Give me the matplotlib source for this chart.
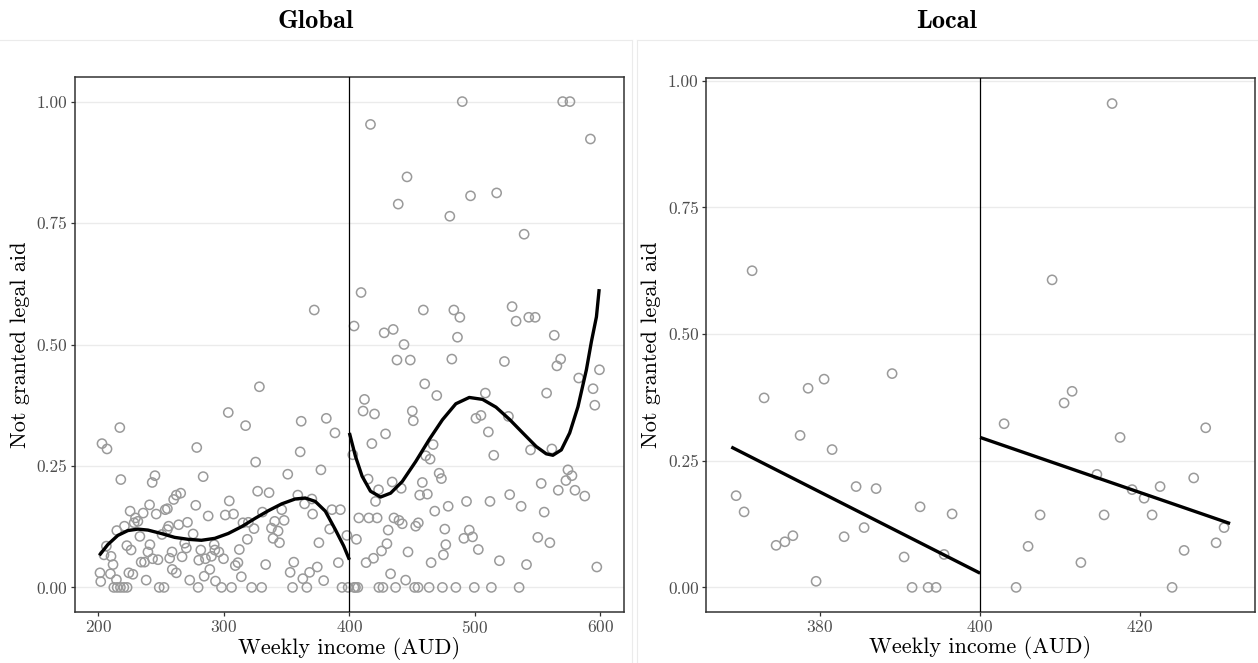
import numpy as np
import matplotlib
matplotlib.use("Agg")
import matplotlib.pyplot as plt
from matplotlib.lines import Line2D

plt.rcParams["font.family"] = ["cmr10", "DejaVu Serif"]
plt.rcParams["axes.formatter.use_mathtext"] = True

cutoff = 400

# Global panel, below the cutoff
glob_left_x = [328.3, 303.5, 217.1, 317.3, 361.6, 381.6, 388.5, 202.9, 206.9, 278.4,
               360.8, 325.3, 217.9, 245.1, 242.9, 283.5, 350.9, 377.3, 265.6, 262.1,
               260.0, 326.9, 336.0, 304.3, 240.8, 277.6, 358.9, 370.1, 364.3, 225.3,
               235.7, 246.1, 253.3, 255.0, 287.5, 301.1, 307.7, 330.7, 346.1, 370.7,
               386.1, 392.8, 229.6, 231.5, 228.5, 220.8, 214.7, 233.1, 256.0, 254.9,
               264.0, 271.0, 275.5, 250.7, 315.2, 319.5, 324.0, 337.9, 340.5, 343.2,
               348.0, 339.2, 344.3, 384.3, 375.7, 206.4, 204.5, 210.1, 222.7, 226.1,
               241.1, 239.5, 243.2, 247.5, 234.1, 236.8, 256.8, 258.7, 266.7, 268.8,
               270.1, 281.6, 280.0, 285.3, 290.1, 292.8, 292.3, 296.0, 299.7, 312.3,
               309.1, 311.2, 288.8, 258.9, 262.1, 211.7, 201.3, 209.6, 201.9, 214.4,
               224.3, 227.5, 238.1, 272.8, 284.3, 293.3, 313.9, 333.3, 355.7, 352.8,
               362.9, 368.3, 374.4, 379.5, 391.2, 318.7, 372.0, 398.0,
               212.3, 215.0, 217.6, 220.3, 222.9, 248.5, 252.3, 279.5, 298.1, 306.1,
               322.1, 330.1, 354.7, 366.1, 394.1, 399.0]
glob_left_y = [0.413, 0.360, 0.329, 0.333, 0.342, 0.348, 0.318, 0.296, 0.285, 0.288,
               0.279, 0.258, 0.222, 0.230, 0.216, 0.228, 0.233, 0.242, 0.194, 0.190,
               0.181, 0.198, 0.195, 0.178, 0.170, 0.169, 0.190, 0.182, 0.172, 0.157,
               0.153, 0.151, 0.160, 0.162, 0.147, 0.149, 0.151, 0.155, 0.160, 0.151,
               0.160, 0.160, 0.143, 0.136, 0.133, 0.126, 0.117, 0.105, 0.126, 0.119,
               0.129, 0.134, 0.110, 0.109, 0.133, 0.134, 0.121, 0.122, 0.136, 0.116,
               0.138, 0.101, 0.092, 0.120, 0.092, 0.085, 0.067, 0.064, 0.086, 0.077,
               0.088, 0.073, 0.059, 0.057, 0.052, 0.052, 0.060, 0.073, 0.063, 0.091,
               0.081, 0.077, 0.056, 0.059, 0.064, 0.077, 0.088, 0.073, 0.059, 0.078,
               0.045, 0.051, 0.037, 0.037, 0.030, 0.047, 0.030, 0.028, 0.012, 0.016,
               0.030, 0.027, 0.015, 0.015, 0.023, 0.013, 0.022, 0.047, 0.052, 0.031,
               0.018, 0.031, 0.042, 0.014, 0.051, 0.099, 0.571, 0.107,
               0, 0, 0, 0, 0, 0, 0, 0, 0, 0,
               0, 0, 0, 0, 0, 0]

# Global panel, above the cutoff
glob_right_x = [489.9, 569.9, 575.7, 416.8, 592.0, 445.9, 438.9, 496.5, 517.3, 480.0,
                539.2, 409.3, 458.9, 483.2, 488.0, 529.6, 532.8, 542.9, 548.0, 403.7,
                427.7, 434.9, 443.5, 486.1, 563.2, 437.9, 448.5, 481.6, 523.5, 568.3,
                565.3, 599.2, 582.7, 594.1, 595.5, 460.0, 469.6, 508.3, 557.1, 412.0,
                410.9, 420.0, 450.1, 450.9, 500.8, 504.8, 526.7, 428.8, 417.9, 466.7,
                402.7, 460.8, 464.3, 510.7, 515.0, 544.3, 561.3, 574.1, 577.3, 572.5,
                579.7, 587.5, 566.4, 552.8, 555.2, 550.1, 559.7, 597.1, 471.5, 473.3,
                458.1, 456.0, 462.1, 414.9, 423.2, 420.8, 434.1, 441.3, 478.7, 468.0,
                493.3, 512.0, 527.7, 536.8, 407.5, 415.5, 422.1, 435.5, 439.5, 442.1,
                430.9, 452.8, 454.9, 476.0, 495.5, 498.1, 491.2, 405.6, 429.9, 425.6,
                419.2, 413.3, 446.7, 476.8, 474.9, 502.7, 465.1, 519.5, 541.1, 432.8,
                444.8,
                403.7, 404.8, 406.7, 423.5, 426.7, 436.8, 452.0, 454.7, 463.5, 474.1,
                484.8, 499.5, 513.1, 535.2]
glob_right_y = [1.000, 1.000, 1.000, 0.953, 0.923, 0.845, 0.789, 0.806, 0.812, 0.764,
                0.727, 0.607, 0.571, 0.571, 0.556, 0.578, 0.548, 0.556, 0.556, 0.538,
                0.524, 0.531, 0.500, 0.515, 0.519, 0.468, 0.468, 0.470, 0.465, 0.470,
                0.456, 0.448, 0.431, 0.409, 0.375, 0.419, 0.395, 0.400, 0.400, 0.387,
                0.363, 0.357, 0.363, 0.343, 0.348, 0.354, 0.352, 0.316, 0.296, 0.294,
                0.273, 0.271, 0.264, 0.320, 0.272, 0.283, 0.285, 0.242, 0.230, 0.220,
                0.200, 0.188, 0.200, 0.214, 0.155, 0.103, 0.092, 0.042, 0.235, 0.224,
                0.216, 0.190, 0.192, 0.223, 0.201, 0.177, 0.217, 0.204, 0.167, 0.157,
                0.177, 0.177, 0.191, 0.167, 0.143, 0.143, 0.143, 0.143, 0.138, 0.131,
                0.118, 0.126, 0.133, 0.120, 0.118, 0.104, 0.101, 0.099, 0.090, 0.075,
                0.060, 0.051, 0.073, 0.088, 0.067, 0.078, 0.051, 0.055, 0.047, 0.028,
                0.015,
                0, 0, 0, 0, 0, 0, 0, 0, 0, 0,
                0, 0, 0, 0]

# global 4th order fit
fit_left_x = [200.8, 207.5, 215.5, 223.5, 231.5, 239.5, 250.1, 260.8, 271.5, 282.1,
              292.8, 303.5, 314.1, 324.8, 335.5, 346.1, 356.8, 364.8, 372.8, 380.8,
              388.8, 395.5, 400.0]
fit_left_y = [0.066, 0.088, 0.107, 0.117, 0.120, 0.118, 0.111, 0.103, 0.099, 0.097,
              0.101, 0.111, 0.125, 0.142, 0.158, 0.172, 0.182, 0.184, 0.177, 0.157,
              0.119, 0.085, 0.057]
fit_right_x = [400.0, 404.8, 410.1, 416.8, 424.8, 432.8, 442.1, 452.8, 463.5, 474.1,
               484.8, 495.5, 506.1, 516.8, 527.5, 538.1, 548.8, 556.8, 562.1, 568.8,
               575.5, 582.1, 588.8, 592.8, 596.8, 599.0]
fit_right_y = [0.318, 0.270, 0.229, 0.198, 0.186, 0.194, 0.218, 0.259, 0.304, 0.345,
               0.378, 0.391, 0.387, 0.371, 0.346, 0.318, 0.290, 0.275, 0.272, 0.283,
               0.318, 0.372, 0.448, 0.506, 0.557, 0.614]

# Local panel
loc_left_x = [369.5, 370.5, 371.5, 373.0, 374.5, 375.6, 376.6, 377.5, 378.5, 379.5,
              380.5, 381.5, 383.0, 384.5, 385.5, 387.0, 389.0, 390.5, 391.5, 392.5,
              393.5, 394.5, 395.5, 396.5]
loc_left_y = [0.181, 0.149, 0.625, 0.374, 0.083, 0.090, 0.102, 0.300, 0.393, 0.012,
              0.411, 0.272, 0.100, 0.199, 0.118, 0.195, 0.422, 0.060, 0.000, 0.159,
              0.000, 0.000, 0.065, 0.145]
loc_right_x = [403.0, 404.5, 406.0, 407.5, 409.0, 410.5, 411.5, 412.6, 414.6, 415.5,
               416.5, 417.5, 419.0, 420.5, 421.5, 422.5, 424.0, 425.5, 426.7, 428.2,
               429.5, 430.5]
loc_right_y = [0.323, 0.000, 0.081, 0.143, 0.607, 0.364, 0.387, 0.049, 0.223, 0.143,
               0.955, 0.296, 0.193, 0.176, 0.143, 0.199, 0.000, 0.073, 0.216, 0.315,
               0.088, 0.118]
lin_left_x = [368.9, 400.0]
lin_left_y = [0.277, 0.028]
lin_right_x = [400.0, 431.25]
lin_right_y = [0.296, 0.126]

y_ticks = [0, 0.25, 0.5, 0.75, 1.0]
y_ticklabels = ["0.00", "0.25", "0.50", "0.75", "1.00"]

W, H = 1258, 663
fig = plt.figure(figsize=(W / 100, H / 100), dpi=100)


def px_box(left, top, right, bottom):
    return [left / W, 1 - bottom / H, (right - left) / W, (bottom - top) / H]


def style_axis(ax):
    ax.set_facecolor("white")
    for s in ax.spines.values():
        s.set_color("#333333")
        s.set_linewidth(1.1)
    ax.set_yticks(y_ticks)
    ax.set_yticklabels(y_ticklabels)
    ax.grid(axis="y", color="#ebebeb", linewidth=1.0)
    ax.set_axisbelow(True)
    ax.tick_params(colors="#333333", labelcolor="#4d4d4d", labelsize=12.5,
                   length=3, width=0.9, pad=2)
    ax.set_xlabel("Weekly income (AUD)", fontsize=16, labelpad=1)
    ax.set_ylabel("Not granted legal aid", fontsize=16, labelpad=5)


def draw_points(ax, xs, ys):
    ax.scatter(xs, ys, s=44, facecolors="none", edgecolors="#9a9a9a",
               linewidths=1.1, zorder=2)


ax1 = fig.add_axes(px_box(74.5, 77.3, 624.3, 611.7))
draw_points(ax1, glob_left_x, glob_left_y)
draw_points(ax1, glob_right_x, glob_right_y)
ax1.plot(fit_left_x, fit_left_y, color="black", lw=2.4, zorder=3, solid_capstyle="butt")
ax1.plot(fit_right_x, fit_right_y, color="black", lw=2.4, zorder=3, solid_capstyle="butt")
ax1.axvline(cutoff, color="black", lw=0.9, zorder=3)
ax1.set_xlim(181, 619)
ax1.set_ylim(-0.05, 1.05)
ax1.set_xticks([200, 300, 400, 500, 600])
style_axis(ax1)

ax2 = fig.add_axes(px_box(705.7, 77.7, 1255.3, 611.7))
draw_points(ax2, loc_left_x, loc_left_y)
draw_points(ax2, loc_right_x, loc_right_y)
ax2.plot(lin_left_x, lin_left_y, color="black", lw=2.4, zorder=3, solid_capstyle="butt")
ax2.plot(lin_right_x, lin_right_y, color="black", lw=2.4, zorder=3, solid_capstyle="butt")
ax2.axvline(cutoff, color="black", lw=0.9, zorder=3)
ax2.set_xlim(365.7, 434.4)
ax2.set_ylim(-0.048, 1.006)
ax2.set_xticks([380, 400, 420])
style_axis(ax2)

# titles, centred on each half
fig.text(316 / W, 1 - 28 / H, "Global", fontsize=19, family=["cmb10", "DejaVu Serif"],
         ha="center", va="baseline")
fig.text(947 / W, 1 - 28 / H, "Local", fontsize=19, family=["cmb10", "DejaVu Serif"],
         ha="center", va="baseline")

# faint frames of the two sub-figures
for xp in [632, 637]:
    fig.add_artist(Line2D([xp / W, xp / W], [0, 1 - 40 / H], color="#ebebeb", lw=0.8))
fig.add_artist(Line2D([0, 632 / W], [1 - 40 / H, 1 - 40 / H], color="#ebebeb", lw=0.8))
fig.add_artist(Line2D([637 / W, 1], [1 - 40 / H, 1 - 40 / H], color="#ebebeb", lw=0.8))

fig.savefig("out.png", dpi=100, facecolor="white")
